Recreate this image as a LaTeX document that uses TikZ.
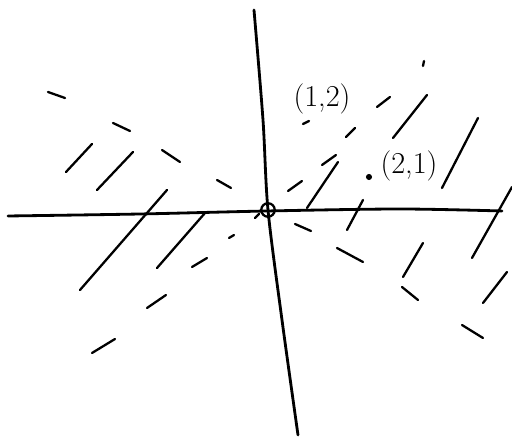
\documentclass[tikz,border=0pt]{standalone}
\usepackage{tikz}
\usetikzlibrary{positioning}

\begin{document}
\begin{tikzpicture}[x=0.02cm, y=-0.02cm, every node/.style={font=\LARGE},
    axis/.style={line width=1.6pt, line cap=round},
    hatch/.style={line width=1.3pt, line cap=round}]
  \useasboundingbox (0,0) rectangle (512,438);
  % axes
  \draw[axis] plot[smooth] coordinates {(8,216) (140,214) (267,211) (400,209) (502,211)};
  \draw[axis] plot[smooth] coordinates {(254,10) (263,120) (268,210) (282,320) (298,435)};
  \node[draw, circle, line width=1.3pt, minimum size=0.27cm, inner sep=0pt] (origin) at (268,210) {};
  % the two points
  \draw[hatch] (303,124) -- (309,121);
  \node[draw, circle, fill, minimum size=3pt, inner sep=0pt] (p21) at (369,177) {};
  \node (lab12) at (322,99) {(1,2)};
  \node (lab21) at (409,166) {(2,1)};
  % dashes going down to the right
  \foreach \a/\b/\c/\d in {48/92/65/98, 113/123/130/131, 162/150/180/162, 217/180/231/188,
      295/224/311/231, 337/248/363/262, 402/287/418/300, 462/325/483/338}
    \draw[hatch] (\a,\b) -- (\c,\d);
  % dashes going up to the right
  \foreach \a/\b/\c/\d in {92/353/115/339, 147/308/166/295, 192/267/207/258, 229/238/234/235,
      255/218/259/214, 288/191/302/181, 322/165/336/155, 346/137/355/128, 377/107/390/97, 424/61/423/66}
    \draw[hatch] (\a,\b) -- (\c,\d);
  % long strokes
  \foreach \a/\b/\c/\d in {66/172/92/144, 97/190/133/152, 80/290/167/190, 157/268/205/213,
      307/208/338/162, 347/230/363/200, 393/138/427/95, 442/188/478/118,
      472/258/512/187, 403/277/423/243, 483/303/507/272}
    \draw[hatch] (\a,\b) -- (\c,\d);
\end{tikzpicture}
\end{document}
